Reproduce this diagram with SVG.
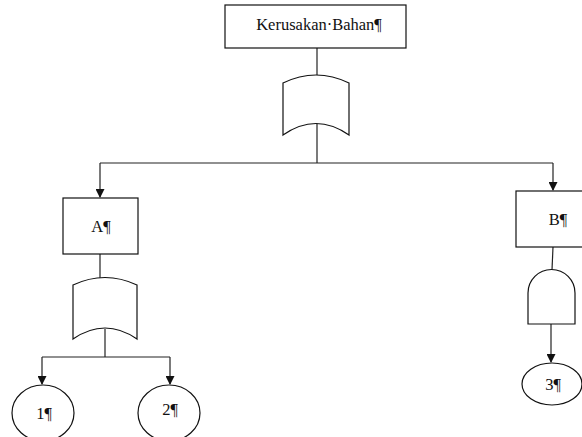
<svg xmlns="http://www.w3.org/2000/svg" width="582" height="437" viewBox="0 0 582 437">
<defs>
<marker id="arr" markerWidth="9" markerHeight="9" refX="8" refY="4.5" orient="auto" markerUnits="userSpaceOnUse">
<path d="M0,0 L9,4.5 L0,9 Z" fill="#111"/>
</marker>
<style>
.s{fill:#fff;stroke:#111;stroke-width:1.2}
.l{fill:none;stroke:#222;stroke-width:1.2}
.t{font-family:"Liberation Serif","Times New Roman",serif;font-size:16.5px;fill:#111;text-anchor:middle}
</style>
</defs>
<rect width="582" height="437" fill="#fff"/>
<g id="connectors">
<path class="l" d="M317,48 V75"/>
<path class="l" d="M317,124 V163"/>
<path class="l" d="M100,163 H553"/>
<path class="l" d="M100,163 V197" marker-end="url(#arr)"/>
<path class="l" d="M553,163 V190" marker-end="url(#arr)"/>
<path class="l" d="M100,254 V278"/>
<path class="l" d="M105,329 V357"/>
<path class="l" d="M42,357 H170"/>
<path class="l" d="M42,357 V384" marker-end="url(#arr)"/>
<path class="l" d="M170,357 V384" marker-end="url(#arr)"/>
<path class="l" d="M553,247 L552,270"/>
<path class="l" d="M551,324 V362" marker-end="url(#arr)"/>
</g>
<g id="top">
<rect class="s" x="225" y="5" width="181" height="43"/>
<text class="t" x="319" y="30">Kerusakan·Bahan¶</text>
</g>
<g id="gate-or-top">
<path class="s" d="M283,83 Q316,67 349,83 V135 Q316,112 283,135 Z"/>
</g>
<g id="A">
<rect class="s" x="63" y="198" width="75" height="56"/>
<text class="t" x="101" y="232">A¶</text>
</g>
<g id="gate-or-A">
<path class="s" d="M73,285 Q105,270 137,285 V339 Q105,317 73,339 Z"/>
</g>
<g id="B">
<rect class="s" x="516" y="191" width="70" height="56"/>
<text class="t" x="558" y="225">B¶</text>
</g>
<g id="gate-and-B">
<path class="s" d="M528,324 V293 A23.5,23.5 0 0 1 575,293 V324 Z"/>
</g>
<g id="e1">
<ellipse class="s" cx="43" cy="413" rx="31" ry="28"/>
<text class="t" x="44" y="419">1¶</text>
</g>
<g id="e2">
<ellipse class="s" cx="169" cy="413" rx="31" ry="28"/>
<text class="t" x="170" y="415">2¶</text>
</g>
<g id="e3">
<ellipse class="s" cx="552" cy="384" rx="30" ry="21"/>
<text class="t" x="553" y="390">3¶</text>
</g>
</svg>
